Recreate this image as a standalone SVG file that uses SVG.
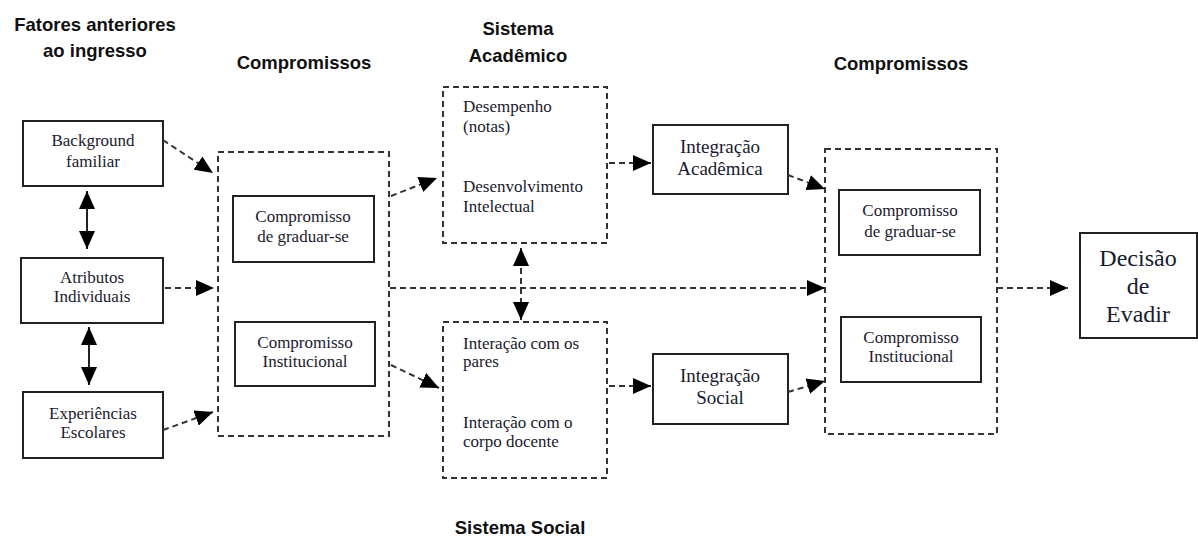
<svg xmlns="http://www.w3.org/2000/svg" width="1198" height="536" viewBox="0 0 1198 536">
<style>
.t{font-family:"Liberation Sans",Arial,sans-serif;font-weight:bold;font-size:18.5px;fill:#111;text-anchor:middle}
.b{fill:#fff;stroke:#222;stroke-width:2}
.d{fill:none;stroke:#333;stroke-width:2;stroke-dasharray:6,4}
.s{font-family:"Liberation Serif","Times New Roman",serif;font-size:17px;fill:#1a1a2e}
.c{text-anchor:middle}
.big{font-size:19px}
.huge{font-size:24px}
.ln{fill:none;stroke:#222;stroke-width:2}
.dl{fill:none;stroke:#333;stroke-width:2;stroke-dasharray:6,4}
</style>
<defs>
<marker id="ah" markerUnits="userSpaceOnUse" markerWidth="18" markerHeight="16" viewBox="0 0 18 16" refX="18" refY="8" orient="auto-start-reverse">
<path d="M0,0 L18,8 L0,16 Z" fill="#000"/>
</marker>
</defs>
<g id="titles">
<text class="t" x="95" y="31">Fatores anteriores</text>
<text class="t" x="95" y="57">ao ingresso</text>
<text class="t" x="304" y="69">Compromissos</text>
<text class="t" x="518" y="35">Sistema</text>
<text class="t" x="518" y="62">Acadêmico</text>
<text class="t" x="901" y="70">Compromissos</text>
<text class="t" x="520" y="534">Sistema Social</text>
</g>
<g id="background">
<rect class="b" x="23" y="121" width="140" height="65"/>
<text class="s c" x="93" y="146">Background</text>
<text class="s c" x="93" y="167">familiar</text>
</g>
<g id="atributos">
<rect class="b" x="21" y="258" width="142" height="65"/>
<text class="s c" x="92" y="283">Atributos</text>
<text class="s c" x="92" y="302">Individuais</text>
</g>
<g id="experiencias">
<rect class="b" x="23" y="392" width="140" height="66"/>
<text class="s c" x="93" y="419">Experiências</text>
<text class="s c" x="93" y="438">Escolares</text>
</g>
<g id="compromissos-esq">
<rect class="d" x="218" y="152" width="171" height="284"/>
</g>
<g id="graduar-esq">
<rect class="b" x="233" y="196" width="141" height="66"/>
<text class="s c" x="303" y="222">Compromisso</text>
<text class="s c" x="303" y="242">de graduar-se</text>
</g>
<g id="institucional-esq">
<rect class="b" x="235" y="322" width="140" height="64"/>
<text class="s c" x="305" y="348">Compromisso</text>
<text class="s c" x="305" y="367">Institucional</text>
</g>
<g id="sistema-academico">
<rect class="d" x="443" y="87" width="164" height="156"/>
<text class="s" x="463" y="112">Desempenho</text>
<text class="s" x="463" y="132">(notas)</text>
<text class="s" x="463" y="192">Desenvolvimento</text>
<text class="s" x="463" y="212">Intelectual</text>
</g>
<g id="sistema-social">
<rect class="d" x="443" y="322" width="164" height="156"/>
<text class="s" x="463" y="349">Interação com os</text>
<text class="s" x="463" y="367">pares</text>
<text class="s" x="463" y="428">Interação com o</text>
<text class="s" x="463" y="447">corpo docente</text>
</g>
<g id="integracao-academica">
<rect class="b" x="653" y="125" width="135" height="69"/>
<text class="s c big" x="720" y="153">Integração</text>
<text class="s c big" x="720" y="175">Acadêmica</text>
</g>
<g id="integracao-social">
<rect class="b" x="653" y="354" width="135" height="70"/>
<text class="s c big" x="720" y="382">Integração</text>
<text class="s c big" x="720" y="404">Social</text>
</g>
<g id="compromissos-dir">
<rect class="d" x="825" y="149" width="172" height="285"/>
</g>
<g id="graduar-dir">
<rect class="b" x="839" y="190" width="141" height="65"/>
<text class="s c" x="910" y="216">Compromisso</text>
<text class="s c" x="910" y="237">de graduar-se</text>
</g>
<g id="institucional-dir">
<rect class="b" x="841" y="317" width="140" height="65"/>
<text class="s c" x="911" y="343">Compromisso</text>
<text class="s c" x="911" y="362">Institucional</text>
</g>
<g id="decisao">
<rect class="b" x="1080" y="233" width="117" height="105"/>
<text class="s c huge" x="1138" y="266">Decisão</text>
<text class="s c huge" x="1138" y="294">de</text>
<text class="s c huge" x="1138" y="322">Evadir</text>
</g>
<g id="connectors">
<line class="ln" x1="87" y1="191" x2="87" y2="249" marker-start="url(#ah)" marker-end="url(#ah)"/>
<line class="ln" x1="89" y1="327" x2="89" y2="385" marker-start="url(#ah)" marker-end="url(#ah)"/>
<line class="dl" x1="163" y1="140" x2="213" y2="173" marker-end="url(#ah)"/>
<line class="dl" x1="165" y1="288" x2="214" y2="288" marker-end="url(#ah)"/>
<line class="dl" x1="163" y1="430" x2="213" y2="412" marker-end="url(#ah)"/>
<line class="dl" x1="391" y1="196" x2="437" y2="178" marker-end="url(#ah)"/>
<line class="dl" x1="391" y1="365" x2="439" y2="388" marker-end="url(#ah)"/>
<line class="dl" x1="390" y1="288" x2="825" y2="288" marker-end="url(#ah)"/>
<line class="dl" x1="609" y1="163" x2="651" y2="163" marker-end="url(#ah)"/>
<line class="dl" x1="609" y1="386" x2="651" y2="386" marker-end="url(#ah)"/>
<line class="dl" x1="788" y1="175" x2="825" y2="189" marker-end="url(#ah)"/>
<line class="dl" x1="788" y1="392" x2="825" y2="381" marker-end="url(#ah)"/>
<line class="dl" x1="997" y1="288" x2="1068" y2="288" marker-end="url(#ah)"/>
<line class="dl" x1="521" y1="248" x2="521" y2="320" marker-start="url(#ah)" marker-end="url(#ah)"/>
</g>
</svg>
